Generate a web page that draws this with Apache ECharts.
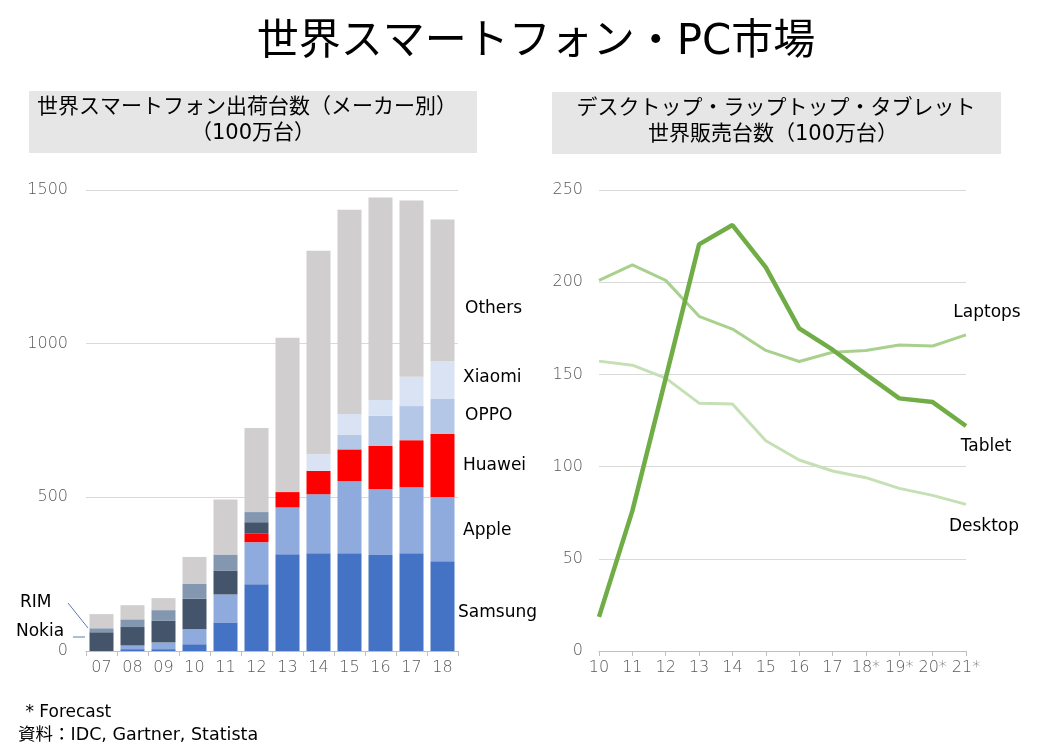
<!DOCTYPE html>
<html>
<head>
<meta charset="utf-8">
<script src="https://cdn.jsdelivr.net/npm/echarts@6/dist/echarts.min.js"></script>
<style>
   html, body { margin: 0; padding: 0; background: #fff; }
   #main { width: 1047px; height: 754px; }
</style>
</head>
<body>
<div id="main"></div>
<script>
// 左: スマートフォン出荷台数（100万台）
var years = [ '07', '08', '09', '10', '11', '12', '13', '14', '15', '16', '17', '18' ] ;
var samsung = [ 0, 6, 6, 22, 93, 217, 315, 318, 318, 312, 318, 292 ] ;
var apple   = [ 0, 12, 22, 49, 91, 137, 152, 192, 235, 215, 215, 209 ] ;
var huawei  = [ 0, 0, 0, 0, 0, 29, 50, 76, 103, 140, 153, 205 ] ;
var nokia   = [ 61, 60, 70, 99, 78, 36, 0, 0, 0, 0, 0, 0 ] ;
var rim     = [ 13, 25, 35, 48, 52, 33, 0, 0, 0, 0, 0, 0 ] ;
var oppo    = [ 0, 0, 0, 0, 0, 0, 0, 0, 47, 98, 111, 114 ] ;
var xiaomi  = [ 0, 0, 0, 0, 0, 0, 0, 54, 68, 52, 95, 124 ] ;
var others  = [ 46, 46, 39, 88, 179, 274, 502, 662, 665, 659, 574, 460 ] ;

// 右: デスクトップ・ラップトップ・タブレット販売台数（100万台）
var pcYears = [ '10', '11', '12', '13', '14', '15', '16', '17', '18*', '19*', '20*', '21*' ] ;
var tablet  = [ 18.5, 76, 148, 220.5, 231, 208, 175, 163.4, 150, 137, 135, 122 ] ;
var laptops = [ 201, 209.4, 201, 181.5, 174.6, 163, 157, 162, 163, 166, 165.4, 171.4 ] ;
var desktop = [ 157.2, 155, 148, 134.4, 133.9, 114, 103.6, 97.6, 94, 88.2, 84.4, 79.5 ] ;

var FONT = '"DejaVu Sans", "Noto Sans CJK JP", sans-serif' ;
var AXIS_GRAY = '#595959' ;
var GRID_GRAY = '#D9D9D9' ;

function barSeries( name, data, color )
{
   return {
      name: name, type: 'bar', stack: 'maker', data: data,
      xAxisIndex: 0, yAxisIndex: 0, barWidth: 24,
      itemStyle: { color: color }
   } ;
}

function lineSeries( name, data, color, width )
{
   return {
      name: name, type: 'line', data: data,
      xAxisIndex: 1, yAxisIndex: 1, showSymbol: false, symbol: 'none',
      lineStyle: { color: color, width: width }, z: width > 4 ? 5 : 3
   } ;
}

//テキスト（x, y は基準点）
function label( text, x, y, size, align )
{
   return { type: 'text', x: x, y: y,
            style: { text: text, font: size + 'px ' + FONT, fill: '#000', align: align || 'left', verticalAlign: 'middle' } } ;
}

function axisLabel( extra )
{
   return Object.assign( { color: AXIS_GRAY, fontSize: 16, fontFamily: FONT, fontWeight: 200 }, extra ) ;
}

var chart = echarts.init( document.getElementById( 'main' ) ) ;
var option = {
   animation: false,
   backgroundColor: '#fff',
   textStyle: { fontFamily: FONT },
   grid: [
      { left: 86, width: 372, top: 190, bottom: 103 },
      { left: 599, width: 367, top: 190, bottom: 103 }
   ],
   xAxis: [
      { type: 'category', gridIndex: 0, data: years,
        axisLine: { lineStyle: { color: '#BFBFBF' } },
        axisTick: { show: true, length: 5, lineStyle: { color: '#BFBFBF' } },
        axisLabel: axisLabel( { margin: 9, interval: 0 } ) },
      { type: 'category', gridIndex: 1, data: pcYears, boundaryGap: false,
        axisLine: { lineStyle: { color: '#BFBFBF' } },
        axisTick: { show: true, length: 5, interval: 0, lineStyle: { color: '#BFBFBF' } },
        axisLabel: axisLabel( { margin: 9, interval: 0, hideOverlap: false, showMaxLabel: true } ) }
   ],
   yAxis: [
      { type: 'value', gridIndex: 0, min: 0, max: 1500, interval: 500,
        axisLine: { show: false }, axisTick: { show: false },
        splitLine: { lineStyle: { color: GRID_GRAY } },
        axisLabel: axisLabel( { margin: 18, formatter: function( v ){ return String( v ) ; } } ) },
      { type: 'value', gridIndex: 1, min: 0, max: 250, interval: 50,
        axisLine: { show: false }, axisTick: { show: false },
        splitLine: { lineStyle: { color: GRID_GRAY } },
        axisLabel: axisLabel( { margin: 16 } ) }
   ],
   series: [
      barSeries( 'Samsung', samsung, '#4472C4' ),
      barSeries( 'Apple', apple, '#8FAADC' ),
      barSeries( 'Huawei', huawei, '#FF0000' ),
      barSeries( 'Nokia', nokia, '#44546A' ),
      barSeries( 'RIM', rim, '#8497B0' ),
      barSeries( 'OPPO', oppo, '#B4C7E7' ),
      barSeries( 'Xiaomi', xiaomi, '#DAE3F3' ),
      barSeries( 'Others', others, '#D0CECE' ),
      lineSeries( 'Desktop', desktop, '#C5E0B4', 3 ),
      lineSeries( 'Laptops', laptops, '#A9D18E', 3 ),
      lineSeries( 'Tablet', tablet, '#70AD47', 4.5 )
   ],
   graphic: [
      { type: 'rect', shape: { x: 29, y: 91, width: 448, height: 62 }, style: { fill: '#E7E6E6' }, z: -1 },
      { type: 'rect', shape: { x: 552, y: 92, width: 449, height: 62 }, style: { fill: '#E7E6E6' }, z: -1 },
      label( '世界スマートフォン・PC市場', 536, 43, 42, 'center' ),
      label( '世界スマートフォン出荷台数（メーカー別）', 247, 108, 21, 'center' ),
      label( '（100万台）', 253, 134, 21, 'center' ),
      label( 'デスクトップ・ラップトップ・タブレット', 776, 109, 21, 'center' ),
      label( '世界販売台数（100万台）', 773, 135, 21, 'center' ),
      // 左グラフのラベル
      label( 'Others', 465, 309, 17 ),
      label( 'Xiaomi', 463, 378, 17 ),
      label( 'OPPO', 465, 416, 17 ),
      label( 'Huawei', 463, 466, 17 ),
      label( 'Apple', 463, 531, 17 ),
      label( 'Samsung', 458, 613, 17 ),
      label( 'RIM', 20, 603, 17 ),
      label( 'Nokia', 16, 632, 17 ),
      { type: 'line', shape: { x1: 68, y1: 603, x2: 88, y2: 628 }, style: { stroke: '#5B7DB1', lineWidth: 1 } },
      { type: 'line', shape: { x1: 73, y1: 637, x2: 85, y2: 637 }, style: { stroke: '#5B7DB1', lineWidth: 1 } },
      // 右グラフのラベル
      label( 'Laptops', 987, 313, 17, 'center' ),
      label( 'Tablet', 986, 447, 17, 'center' ),
      label( 'Desktop', 984, 527, 17, 'center' ),
      // 注記
      label( ' * Forecast', 20, 713, 17 ),
      label( '資料：IDC, Gartner, Statista', 18, 735, 17.5 )
   ]
} ;
chart.setOption( option ) ;
</script>
</body>
</html>
